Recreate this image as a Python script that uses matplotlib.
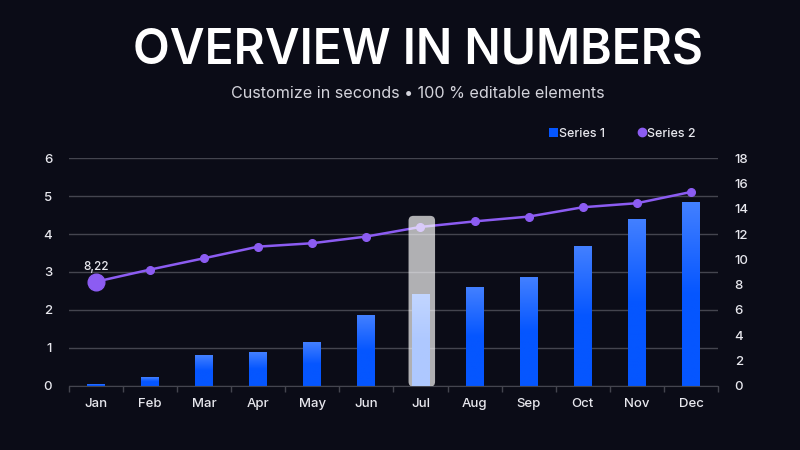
import numpy as np
import matplotlib
matplotlib.use("Agg")
import matplotlib.pyplot as plt
from matplotlib.patches import FancyBboxPatch
from matplotlib.colors import LinearSegmentedColormap
from matplotlib.lines import Line2D
from matplotlib.patches import Patch

# Chart data
months = ["Jan", "Feb", "Mar", "Apr", "May", "Jun",
          "Jul", "Aug", "Sep", "Oct", "Nov", "Dec"]
series1 = [0.05, 0.23, 0.81, 0.89, 1.15, 1.85, 2.42, 2.61, 2.86, 3.69, 4.40, 4.85]
series2 = [8.22, 9.18, 10.08, 11.0, 11.27, 11.8, 12.56, 13.0, 13.38, 14.12, 14.44, 15.33]
left_ticks = [0, 1, 2, 3, 4, 5, 6]
right_ticks = [0, 2, 4, 6, 8, 10, 12, 14, 16, 18]
highlight_month = "Jul"
title = "OVERVIEW IN NUMBERS"
subtitle = "Customize in seconds \u2022 100 % editable elements"

BG = "#0b0c17"
GRID = "#44454f"
TEXT = "#e8e8ee"
BLUE_TOP = "#4380ff"
BLUE_BOT = "#0556ff"
PURPLE = "#8c5cf2"

plt.rcParams["font.family"] = ["Inter", "DejaVu Sans"]
plt.rcParams["font.weight"] = "medium"

fig = plt.figure(figsize=(8, 4.5), dpi=100, facecolor=BG)
ax = fig.add_axes([0.086, 0.1433, 0.8115, 0.505])
ax.set_facecolor(BG)
ax2 = ax.twinx()

x = np.arange(len(months))
bar_w = 0.33

# bars with vertical gradient
bars = ax.bar(x, series1, width=bar_w, color=BLUE_BOT, zorder=2)
cmap = LinearSegmentedColormap.from_list("blu", [BLUE_BOT, BLUE_BOT, BLUE_TOP])
grad = np.linspace(0, 1, 256).reshape(-1, 1)
for b in bars:
    bx, by = b.get_x(), b.get_y()
    bw, bh = b.get_width(), b.get_height()
    im = ax.imshow(grad, cmap=cmap, origin="lower", aspect="auto",
                   extent=[bx, bx + bw, by, by + bh], zorder=2.5)
    im.set_clip_path(b)

ax.set_xlim(-0.5, len(months) - 0.5)
ax.set_ylim(0, 6)
ax.set_yticks(left_ticks)
ax.grid(axis="y", color=GRID, linewidth=1, zorder=0)
ax.set_axisbelow(True)

ax.set_xticks(x)
ax.set_xticklabels(months)
ax.set_xticks(np.arange(-0.5, len(months), 1), minor=True)
ax.tick_params(axis="x", which="major", length=0, pad=9, labelcolor=TEXT, labelsize=9.5)
ax.tick_params(axis="x", which="minor", length=4, color=GRID, width=1)
ax.tick_params(axis="y", length=0, pad=12, labelcolor=TEXT, labelsize=9.5)

for a in (ax, ax2):
    for s in a.spines.values():
        s.set_visible(False)
ax.spines["bottom"].set_visible(True)
ax.spines["bottom"].set_color(GRID)

# line series on the right axis
ax2.set_ylim(0, 18)
ax2.set_yticks(right_ticks)
ax2.tick_params(axis="y", length=0, pad=12, labelcolor=TEXT, labelsize=9.5)
ax2.plot(x, series2, color=PURPLE, linewidth=1.8, marker="o", markersize=5.5, zorder=3)
ax2.plot(x[0], series2[0], marker="o", markersize=12, color=PURPLE, zorder=4)
ax2.annotate(f"{series2[0]:.2f}".replace(".", ","), (x[0], series2[0]),
             xytext=(0, 6), textcoords="offset points", ha="center", va="bottom",
             color=TEXT, fontsize=8.5)
ax2.set_xlim(-0.5, len(months) - 0.5)

# highlight box over one month
hi = months.index(highlight_month)
aspect = (6 / 227.0) / ((len(months)) / 649.0)
box = FancyBboxPatch((hi - 0.22, -0.03), 0.49, 4.51,
                     boxstyle="round,pad=0,rounding_size=0.09",
                     mutation_aspect=aspect, facecolor="white", alpha=0.68,
                     edgecolor="none", transform=ax.transData, zorder=10)
ax2.add_patch(box)

# legend
handles = [Patch(facecolor=BLUE_BOT, label="Series 1"),
           Line2D([], [], color=PURPLE, marker="o", linestyle="none",
                  markersize=6, label="Series 2")]
leg = fig.legend(handles=handles, loc="center", bbox_to_anchor=(0.778, 0.703),
                 ncol=2, frameon=False, fontsize=9, labelcolor=TEXT,
                 handlelength=0.7, handletextpad=0.05, columnspacing=2.6,
                 prop={"weight": "medium", "size": 9})

fig.text(0.522, 0.887, title, ha="center", va="center", color="white",
         fontsize=34.5, fontweight="semibold")
fig.text(0.522, 0.793, subtitle, ha="center", va="center", color="#d4d4dc",
         fontsize=11.6, fontweight="normal")

fig.savefig("out.png", dpi=100, facecolor=BG)
